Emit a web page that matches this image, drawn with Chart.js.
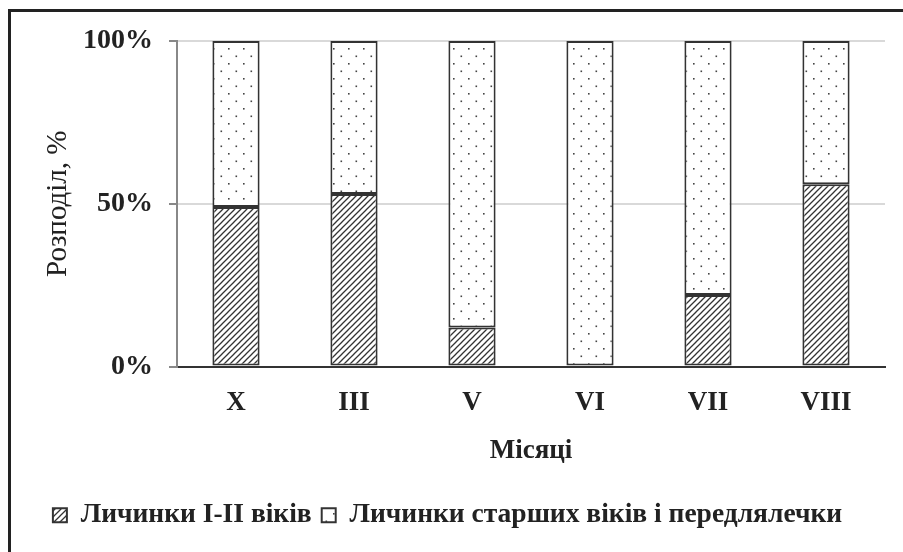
<!DOCTYPE html>
<html>
<head>
<meta charset="utf-8">
<script src="https://cdn.jsdelivr.net/npm/chart.js@4"></script>
<style>
  html, body { margin: 0; padding: 0; background: #fff; }
  #wrap { position: relative; width: 903px; height: 552px; }
  #frame { position: absolute; left: 8px; top: 9px; width: 900px; height: 600px;
           border-left: 3px solid #222; border-top: 3px solid #222; }
  canvas { position: absolute; left: 0; top: 0; }
</style>
</head>
<body>
<div id="wrap">
  <div id="frame"></div>
  <canvas id="myChart" width="903" height="552"></canvas>
</div>
<script>
const months = ["X", "III", "V", "VI", "VII", "VIII"];
const youngLarvae = [49, 53, 12, 0, 22, 56];
const olderLarvae = [51, 47, 88, 100, 78, 44];
const seriesNames = ["Личинки І-ІІ віків", "Личинки старших віків і передлялечки"];
const yTicks = [0, 50, 100];

const serif = "'Liberation Serif', 'DejaVu Serif', serif";

function hatchPattern() {
  const c = document.createElement("canvas");
  c.width = 6; c.height = 6;
  const g = c.getContext("2d");
  g.fillStyle = "#fff";
  g.fillRect(0, 0, 6, 6);
  g.strokeStyle = "#333";
  g.lineWidth = 1.3;
  g.beginPath();
  g.moveTo(-1, 7); g.lineTo(7, -1);
  g.moveTo(-1, 1); g.lineTo(1, -1);
  g.moveTo(5, 7); g.lineTo(7, 5);
  g.stroke();
  return g.createPattern(c, "repeat");
}

function dotPattern() {
  const c = document.createElement("canvas");
  c.width = 15; c.height = 15;
  const g = c.getContext("2d");
  g.fillStyle = "#fff";
  g.fillRect(0, 0, 15, 15);
  g.fillStyle = "#444";
  g.fillRect(3, 3, 1.6, 1.6);
  g.fillRect(10.5, 10.5, 1.6, 1.6);
  return g.createPattern(c, "repeat");
}

// hide the outline of empty segments (VI has no young larvae)
const edge = (c) => (c.raw === 0 ? 0 : 2);

const ctx = document.getElementById("myChart");
new Chart(ctx, {
  type: "bar",
  data: {
    labels: months,
    datasets: [
      {
        label: seriesNames[0],
        data: youngLarvae,
        backgroundColor: hatchPattern(),
        borderColor: "#333",
        borderWidth: edge,
        borderSkipped: false,
      },
      {
        label: seriesNames[1],
        data: olderLarvae,
        backgroundColor: dotPattern(),
        borderColor: "#333",
        borderWidth: edge,
        borderSkipped: false,
      },
    ],
  },
  options: {
    responsive: false,
    animation: false,
    layout: { padding: { left: 10, right: 18, top: 41, bottom: 13 } },
    datasets: { bar: { categoryPercentage: 1, barPercentage: 0.4 } },
    scales: {
      x: {
        stacked: true,
        afterFit: (scale) => { scale.height = 125; },
        grid: { display: false, drawTicks: false },
        border: { color: "#333", width: 2 },
        ticks: { color: "#222", font: { family: serif, size: 27, weight: "bold" }, padding: 20 },
        title: { display: true, text: "Місяці", color: "#222",
                 font: { family: serif, size: 27, weight: "bold" }, padding: { top: 0, bottom: 24 } },
      },
      y: {
        stacked: true,
        min: 0,
        max: 100,
        afterFit: (scale) => { scale.width = 167; },
        afterBuildTicks: (axis) => { axis.ticks = yTicks.map((v) => ({ value: v })); },
        grid: { color: "#d9d9d9", lineWidth: 2, tickLength: 8, tickColor: "#888" },
        border: { color: "#888", width: 2 },
        ticks: { color: "#222", font: { family: serif, size: 28, weight: "bold" }, padding: 16,
                 callback: (v) => v + "%" },
        title: { display: true, text: "Розподіл, %", color: "#222",
                 font: { family: serif, size: 29 }, padding: { top: 31, bottom: 0 } },
      },
    },
    plugins: {
      legend: {
        position: "bottom",
        labels: { color: "#222", boxWidth: 14, boxHeight: 14, padding: 10,
                  font: { family: serif, size: 27.5, weight: "bold" } },
      },
      tooltip: { enabled: false },
    },
  },
});
</script>
</body>
</html>
